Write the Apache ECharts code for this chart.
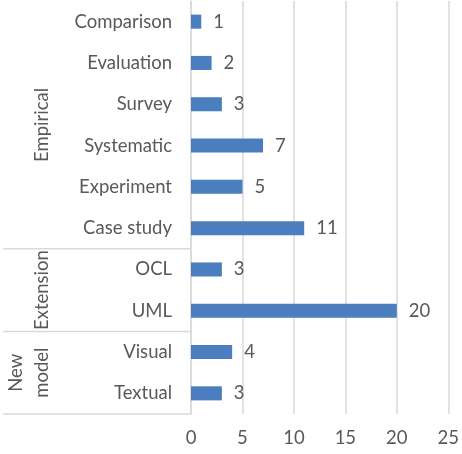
<!DOCTYPE html>
<html>
<head>
<meta charset="utf-8">
<script src="https://cdn.jsdelivr.net/npm/echarts@6/dist/echarts.min.js"></script>
<style>
  html, body { margin: 0; padding: 0; background: #fff; }
  #chart { width: 462px; height: 454px; }
</style>
</head>
<body>
<div id="chart"></div>
<script>
// categories top to bottom
var categories = ['Comparison', 'Evaluation', 'Survey', 'Systematic', 'Experiment', 'Case study', 'OCL', 'UML', 'Visual', 'Textual'];
var counts = [1, 2, 3, 7, 5, 11, 3, 20, 4, 3];
var groupNames = ['Empirical', 'Extension', 'New\nmodel'];
var groupSizes = [6, 2, 2];
var xTicks = [0, 5, 10, 15, 20, 25];

var font = 'Lato, "Open Sans", sans-serif';
var textColor = '#595959';
var lineColor = '#d9d9d9';

var chart = echarts.init(document.getElementById('chart'));

chart.setOption({
  animation: false,
  grid: { left: 191, right: 9, top: 1, bottom: 40, containLabel: false },
  xAxis: {
    type: 'value',
    min: xTicks[0],
    max: xTicks[xTicks.length - 1],
    interval: 5,
    axisLine: { show: false },
    axisTick: { show: false },
    splitLine: { lineStyle: { color: lineColor, width: 1.5 } },
    axisLabel: { color: textColor, fontFamily: font, fontSize: 18.5, margin: 15 }
  },
  yAxis: {
    type: 'category',
    inverse: true,
    data: categories,
    axisLine: { lineStyle: { color: lineColor, width: 1.5 } },
    axisTick: { show: false },
    axisLabel: { color: textColor, fontFamily: font, fontSize: 18.5, margin: 19 }
  },
  series: [{
    type: 'bar',
    data: counts,
    barWidth: '34%',
    itemStyle: { color: '#4a7ebf' },
    label: {
      show: true,
      position: 'right',
      distance: 12,
      color: textColor,
      fontFamily: font,
      fontSize: 18.5
    }
  }]
});

// group brackets on the left, placed from the category scale
function drawGroups() {
  var c0 = chart.convertToPixel({ yAxisIndex: 0 }, 0);
  var c1 = chart.convertToPixel({ yAxisIndex: 0 }, 1);
  var band = c1 - c0;
  var axisX = chart.convertToPixel({ xAxisIndex: 0 }, 0);
  var lineGap = 26;
  var elements = [];
  var start = 0;
  for (var g = 0; g < groupNames.length; g++) {
    var end = start + groupSizes[g];
    var yTop = c0 + (start - 0.5) * band;
    var yBot = c0 + (end - 0.5) * band;
    var nLines = groupNames[g].split('\n').length;
    elements.push({
      type: 'line',
      shape: { x1: 3, y1: yBot, x2: axisX, y2: yBot },
      style: { stroke: lineColor, lineWidth: 1.5 }
    });
    elements.push({
      type: 'text',
      x: 42 - (nLines - 1) * lineGap / 2,
      y: (yTop + yBot) / 2,
      rotation: Math.PI / 2,
      style: {
        text: groupNames[g],
        fill: textColor,
        font: '18.5px ' + font,
        align: 'center',
        verticalAlign: 'middle',
        lineHeight: lineGap
      }
    });
    start = end;
  }
  chart.setOption({ graphic: elements });
}
drawGroups();
</script>
</body>
</html>
